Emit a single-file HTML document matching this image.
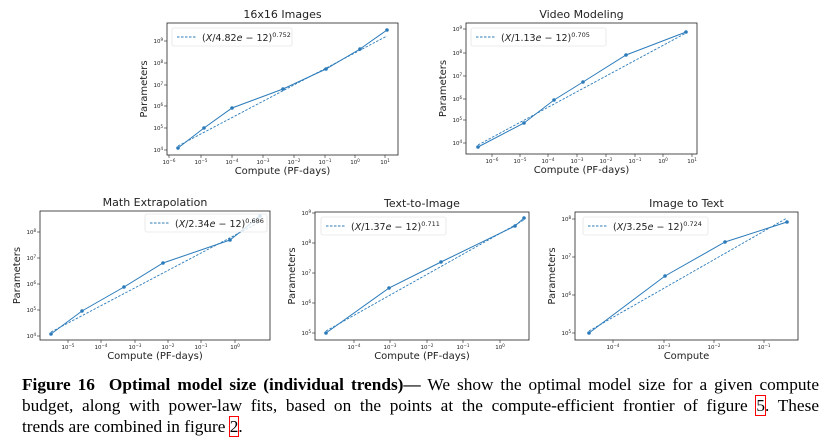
<!DOCTYPE html>
<html><head><meta charset="utf-8"><style>
body{margin:0;background:#fff;width:835px;height:446px;overflow:hidden}
svg text{font-family:"DejaVu Sans","Liberation Sans",sans-serif;fill:#222}
.cap{position:absolute;left:22px;top:374px;width:797px;font-family:"Liberation Serif",serif;font-size:17.3px;line-height:21px;color:#000}
.cap div{text-align:justify;text-align-last:justify;white-space:nowrap}
.cap div.l{text-align-last:left}
</style></head><body>
<svg id="s" width="835" height="446" style="position:absolute;left:0;top:0"></svg>
<div class="cap"><div><b>Figure 16<span style="display:inline-block;width:14px"></span>Optimal model size (individual trends)—</b> We show the optimal model size for a given compute</div><div>budget, along with power-law fits, based on the points at the compute-efficient frontier of figure <span style="outline:1px solid red">5</span>. These</div><div class="l">trends are combined in figure <span style="outline:1px solid red">2</span>.</div></div>
<script>
const S=document.getElementById('s');let h='';
function P(o){
 const [l,t,r,b]=o.f;
 h+=`<text x="${(l+r)/2}" y="${t-5}" font-size="11" text-anchor="middle">${o.title}</text>`;
 h+=`<rect x="${l}" y="${t}" width="${r-l}" height="${b-t}" fill="none" stroke="#222" stroke-width="0.8"/>`;
 h+=`<text x="${(l+r)/2}" y="${b+19}" font-size="10" text-anchor="middle">${o.xl}</text>`;
 h+=`<text transform="translate(${l-20},${(t+b)/2}) rotate(-90)" font-size="10" text-anchor="middle">Parameters</text>`;
 o.yt.forEach(([y,e])=>{h+=`<line x1="${l-3}" x2="${l}" y1="${y}" y2="${y}" stroke="#222" stroke-width=".6"/><text x="${l-4}" y="${y+2}" font-size="5.5" text-anchor="end">10<tspan dy="-2" font-size="4">${e}</tspan></text>`;});
 o.xt.forEach(([x,e])=>{h+=`<line x1="${x}" x2="${x}" y1="${b}" y2="${b+3}" stroke="#222" stroke-width=".6"/><text x="${x}" y="${b+9}" font-size="5.5" text-anchor="middle">10<tspan dy="-2" font-size="4">${e}</tspan></text>`;});
 const p=o.p;
 h+=`<polyline points="${p.map(a=>a.join(',')).join(' ')}" fill="none" stroke="#2b7bba" stroke-width="1"/>`;
 p.forEach(a=>h+=`<circle cx="${a[0]}" cy="${a[1]}" r="1.8" fill="#2b7bba"/>`);
 const a=p[0],z=p[p.length-1];
 h+=`<line x1="${a[0]}" y1="${a[1]-2}" x2="${z[0]}" y2="${z[1]+(o.dz||4)}" stroke="#2b7bba" stroke-width=".9" stroke-dasharray="2.5,1.5"/>`;
 const [lx,ly,lw]=o.lg;
 h+=`<rect x="${lx}" y="${ly}" width="${lw}" height="18" rx="2" fill="#fff" fill-opacity=".8" stroke="#ddd" stroke-width=".6"/>`;
 h+=`<line x1="${lx+5}" x2="${lx+24}" y1="${ly+9}" y2="${ly+9}" stroke="#2b7bba" stroke-width=".9" stroke-dasharray="2.5,1.5"/>`;
 h+=`<text x="${lx+30}" y="${ly+13}" font-size="9.5">(<tspan font-style="italic">X</tspan>/${o.c}<tspan font-style="italic">e</tspan> − 12)<tspan dy="-4" font-size="6.5">${o.ex}</tspan></text>`;
}
P({title:"16x16 Images",f:[167,23,398,155],xl:"Compute (PF-days)",
 yt:[[150,4],[128,5],[106,6],[85,7],[63,8],[41,9]],
 xt:[[169,"−6"],[201,"−5"],[232,"−4"],[263,"−3"],[294,"−2"],[325,"−1"],[355,"0"],[385,"1"]],
 p:[[178,148],[204,128],[232,108],[283,89],[326,69],[360,49],[387,30]],lg:[172,28,120],c:"4.82",ex:"0.752",dz:6});
P({title:"Video Modeling",f:[466,23,697,154],xl:"Compute (PF-days)",
 yt:[[143,4],[120,5],[99,6],[76,7],[53,8],[29,9]],
 xt:[[492,"−6"],[520,"−5"],[548,"−4"],[577,"−3"],[606,"−2"],[635,"−1"],[663,"0"],[692,"1"]],
 p:[[478,147],[524,123],[554,100],[583,82],[626,55],[686,32]],lg:[471,28,135],c:"1.13",ex:"0.705",dz:1});
P({title:"Math Extrapolation",f:[40,211,270,340],xl:"Compute (PF-days)",
 yt:[[336,4],[310,5],[284,6],[258,7],[232,8]],
 xt:[[68,"−5"],[101,"−4"],[135,"−3"],[168,"−2"],[201,"−1"],[235,"0"]],
 p:[[51,334],[82,311],[124,287],[163,263],[230,240],[260,216]],lg:[145,214,122],c:"2.34",ex:"0.686",dz:6});
P({title:"Text-to-Image",f:[315,212,529,340],xl:"Compute (PF-days)",
 yt:[[333,5],[303,6],[273,7],[243,8],[213,9]],
 xt:[[354,"−4"],[390,"−3"],[427,"−2"],[463,"−1"],[500,"0"]],
 p:[[326,333],[389,288],[441,262],[515,226],[524,218]],lg:[321,217,125],c:"1.37",ex:"0.711",dz:2});
P({title:"Image to Text",f:[575,212,798,340],xl:"Compute",
 yt:[[333,5],[295,6],[257,7],[219,8]],
 xt:[[613,"−4"],[664,"−3"],[714,"−2"],[764,"−1"]],
 p:[[589,333],[665,276],[725,242],[787,222]],lg:[583,217,125],c:"3.25",ex:"0.724",dz:-4});
S.innerHTML=h;
</script>
</body></html>
